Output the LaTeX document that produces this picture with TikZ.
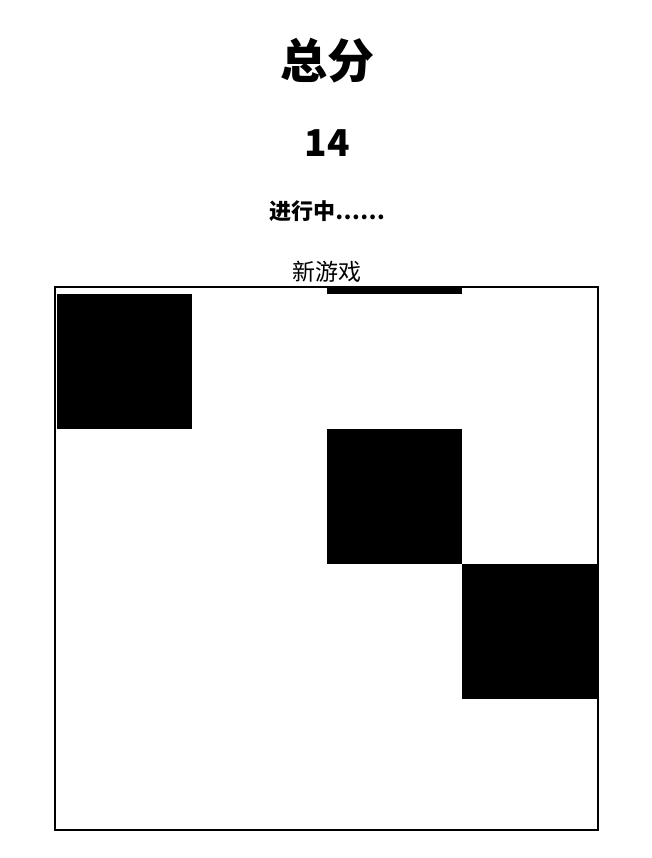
\documentclass[tikz,border=0pt]{standalone}
\usepackage{fontspec}
\newfontfamily\cjk{Noto Sans CJK SC}
\begin{document}
\begin{tikzpicture}[x=1pt,y=-1pt,
  title/.style={font=\cjk\bfseries\fontsize{47}{50}\selectfont, inner sep=0pt},
  score/.style={font=\cjk\bfseries\fontsize{37}{40}\selectfont, inner sep=0pt},
  status/.style={font=\cjk\bfseries\fontsize{22}{24}\selectfont, inner sep=0pt},
  btn/.style={font=\cjk\fontsize{23}{25}\selectfont, inner sep=0pt},
  board/.style={draw=black, line width=2pt},
  tile/.style={fill=black, draw=none}]
\useasboundingbox (0,0) rectangle (651,858);
\node[title] (t) at (327,61) {总分};
\node[score] (s) at (327.5,143.5) {14};
\node[status] (st) at (327,211) {进行中……};
\node[btn] (ng) at (327,272) {新游戏};
\fill[tile] (57,294) rectangle (192,429);
\fill[tile] (327,288) rectangle (462,294);
\fill[tile] (327,429) rectangle (462,564);
\fill[tile] (462,564) rectangle (597,699);
\draw[board] (55,287) rectangle (598.3,829.7);
\end{tikzpicture}
\end{document}
